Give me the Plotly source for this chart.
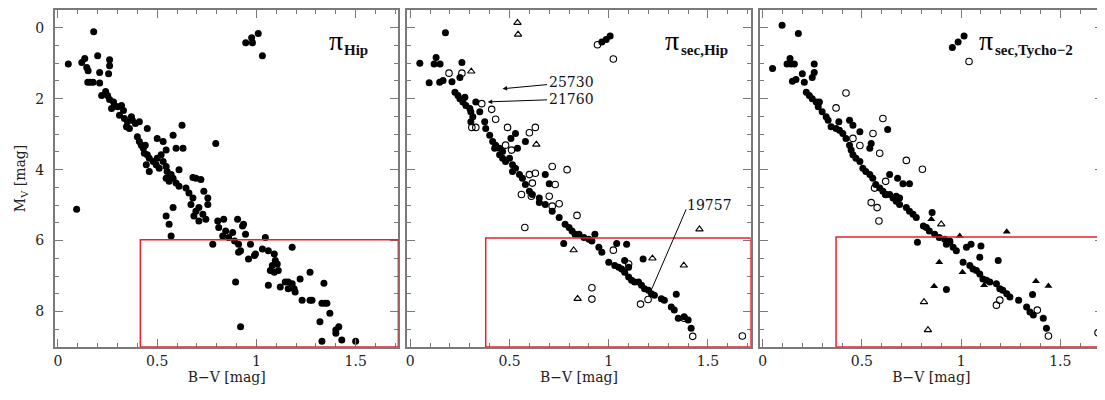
import plotly.graph_objects as go
from plotly.subplots import make_subplots

# (B-V, M_V)
hip_filled = [
    (0.052, 1.02), (0.18, 0.11), (0.12, 0.98), (0.135, 0.87), (0.145, 1.12), (0.152, 1.21),
    (0.15, 1.54), (0.164, 1.54), (0.177, 1.54), (0.20, 0.79), (0.21, 1.26), (0.21, 1.56),
    (0.26, 0.90), (0.26, 1.07), (0.255, 1.30), (0.22, 1.91),
    (0.24, 1.80), (0.25, 1.91), (0.26, 2.02), (0.28, 2.09), (0.285, 2.19), (0.27, 2.28),
    (0.30, 2.23), (0.32, 2.19), (0.33, 2.33), (0.31, 2.47), (0.335, 2.56), (0.35, 2.65),
    (0.37, 2.51), (0.375, 2.61), (0.39, 2.70), (0.36, 2.84), (0.345, 2.79), (0.41, 2.65),
    (0.40, 3.07), (0.41, 3.21), (0.42, 3.31), (0.43, 3.40), (0.44, 3.31), (0.435, 3.54),
    (0.45, 3.58), (0.46, 3.68), (0.48, 3.77), (0.495, 3.86), (0.51, 3.96), (0.50, 3.68),
    (0.52, 3.58), (0.53, 3.77), (0.545, 3.91), (0.55, 4.05), (0.57, 4.14), (0.58, 4.24),
    (0.595, 4.38), (0.61, 4.47), (0.545, 4.24), (0.56, 4.33), (0.50, 3.12), (0.53, 3.21),
    (0.545, 3.45), (0.45, 2.84), (0.625, 2.75), (0.58, 3.03), (0.595, 3.40), (0.63, 3.40),
    (0.61, 4.00), (0.795, 3.26), (0.445, 3.86), (0.46, 4.05), (0.68, 4.22), (0.695, 4.24),
    (0.72, 4.28), (0.735, 4.61), (0.755, 4.80), (0.645, 4.52), (0.66, 4.66), (0.68, 4.80),
    (0.67, 4.98), (0.695, 5.17), (0.71, 5.07), (0.73, 5.26), (0.745, 5.40), (0.755, 4.98),
    (0.685, 5.31), (0.71, 5.45), (0.094, 5.12), (0.545, 5.31), (0.56, 5.54), (0.57, 5.87),
    (0.58, 5.07), (0.78, 6.10), (0.805, 5.45), (0.81, 5.63), (0.835, 5.40), (0.845, 5.73),
    (0.86, 5.91), (0.88, 5.77), (0.89, 6.01), (0.83, 5.87), (0.905, 5.40), (0.93, 5.59),
    (0.935, 5.54), (0.945, 5.82), (0.91, 6.10), (0.91, 6.33), (0.92, 6.29), (0.96, 6.52),
    (0.97, 6.10), (0.99, 6.42), (0.995, 6.38), (1.045, 5.91), (1.03, 6.24), (1.06, 6.29),
    (1.09, 6.38), (1.095, 6.56), (1.08, 6.70), (1.07, 6.84), (1.09, 6.89), (1.105, 6.66),
    (1.11, 6.84), (0.895, 7.17), (0.92, 8.43), (1.06, 7.26), (1.18, 6.19), (1.12, 7.31),
    (1.145, 7.17), (1.16, 7.17), (1.18, 7.22), (1.19, 7.36), (1.195, 7.45), (1.16, 7.36),
    (1.22, 7.08), (1.27, 6.89), (1.23, 7.68), (1.27, 7.68), (1.28, 7.68), (1.34, 7.20),
    (1.33, 7.77), (1.345, 7.77), (1.355, 7.77), (1.32, 8.29), (1.37, 8.05), (1.40, 8.52),
    (1.415, 8.43), (1.40, 8.61), (1.43, 8.80), (1.33, 8.84), (1.50, 8.84),
    (0.946, 0.42), (0.976, 0.28), (0.98, 0.42), (1.009, 0.16), (1.03, 0.79),
]

sec_filled = [
    (0.048, 1.00), (0.177, 0.14), (0.095, 1.55), (0.13, 0.84), (0.12, 1.02), (0.15, 1.02),
    (0.148, 1.54), (0.165, 1.49), (0.21, 1.52), (0.26, 0.98), (0.25, 1.40),
    (0.225, 1.82), (0.24, 1.91), (0.25, 2.00), (0.265, 2.09), (0.275, 1.96), (0.28, 2.19),
    (0.30, 2.28), (0.305, 2.37), (0.315, 2.51), (0.305, 2.65), (0.375, 2.65), (0.38, 2.84),
    (0.40, 3.03), (0.415, 3.21), (0.425, 3.40), (0.43, 3.31), (0.45, 3.58), (0.465, 3.68),
    (0.48, 3.77), (0.515, 3.86), (0.53, 3.96), (0.55, 4.14), (0.565, 4.24), (0.58, 4.42),
    (0.60, 4.61), (0.615, 4.70), (0.65, 4.80), (0.507, 3.12), (0.53, 2.98), (0.54, 3.40),
    (0.58, 3.21), (0.68, 4.14), (0.70, 4.40), (0.33, 2.09), (0.35, 2.37), (0.45, 3.40),
    (0.465, 3.49), (0.50, 3.68), (0.515, 4.05),
    (0.965, 0.40), (0.987, 0.33), (1.007, 0.23),
    (0.65, 4.93), (0.68, 4.98), (0.715, 5.17), (0.75, 5.35), (0.78, 5.54), (0.80, 5.63),
    (0.815, 5.73), (0.83, 5.82), (0.85, 5.82), (0.875, 5.91), (0.90, 5.96), (0.915, 6.01),
    (0.93, 5.82), (0.95, 6.19), (0.965, 6.33), (1.00, 6.61), (1.03, 6.70), (1.05, 6.75),
    (1.065, 6.80), (1.08, 6.89), (1.10, 7.03), (1.115, 7.12), (1.13, 7.17), (1.15, 7.17),
    (1.165, 7.26), (1.18, 7.36), (1.20, 7.40), (1.215, 7.50), (1.23, 7.54), (1.265, 7.64),
    (1.28, 7.68), (1.315, 7.87), (1.33, 7.96), (1.35, 8.19), (1.38, 8.15), (1.40, 8.24),
    (1.415, 8.47), (0.773, 6.08), (1.04, 6.08), (1.09, 6.10), (1.173, 6.52), (1.34, 7.51),
    (1.08, 6.56), (1.10, 6.75),
]
sec_open = [
    (0.195, 1.28), (0.26, 1.28), (0.36, 2.14), (0.41, 2.30), (0.43, 2.58), (0.49, 2.81),
    (0.31, 2.81), (0.33, 2.81), (0.60, 2.96), (0.63, 2.81), (0.48, 3.31), (0.51, 3.45),
    (0.715, 3.91), (0.79, 4.00), (0.63, 4.10), (0.60, 4.14), (0.615, 4.38), (0.73, 4.42),
    (0.56, 4.70), (0.61, 4.75), (0.70, 4.75), (0.943, 0.48), (1.023, 0.88),
    (0.577, 5.63), (0.84, 5.29), (1.023, 6.27), (1.10, 6.66), (0.915, 7.33), (0.915, 7.65),
    (1.16, 7.79), (1.198, 7.66), (1.38, 8.19), (1.423, 8.70), (1.673, 8.69), (0.715, 5.03),
    (0.75, 4.96),
]
sec_open_tri = [
    (0.54, -0.14), (0.543, 0.19), (0.307, 1.23), (0.635, 3.29),
    (0.823, 6.27), (0.843, 7.64), (1.22, 6.50), (1.378, 6.70), (1.457, 5.68),
]

tyc_filled = [
    (0.098, -0.07), (0.18, 0.16), (0.05, 1.15), (0.138, 0.87), (0.123, 1.02), (0.143, 1.02),
    (0.16, 1.02), (0.15, 1.51), (0.168, 1.46), (0.20, 1.30), (0.21, 1.54), (0.26, 1.02),
    (0.26, 1.26), (0.25, 1.40),
    (0.22, 1.82), (0.235, 1.91), (0.25, 2.00), (0.27, 2.09), (0.286, 2.09), (0.28, 2.23),
    (0.30, 2.37), (0.32, 2.51), (0.33, 2.61), (0.345, 2.79), (0.37, 2.84), (0.387, 2.89),
    (0.404, 2.98), (0.42, 3.12), (0.438, 3.31), (0.446, 3.45), (0.455, 3.58), (0.47, 3.68),
    (0.49, 3.77), (0.505, 3.96), (0.52, 4.05), (0.54, 4.14), (0.555, 4.24), (0.57, 4.42),
    (0.59, 4.52), (0.606, 4.61), (0.62, 4.70), (0.64, 4.70), (0.657, 4.80), (0.673, 4.75),
    (0.69, 4.80), (0.384, 2.65), (0.438, 2.61), (0.455, 2.75), (0.49, 2.93), (0.547, 3.26),
    (0.54, 3.40), (0.63, 2.87), (0.64, 4.14), (0.68, 4.24), (0.707, 4.40), (0.74, 4.40),
    (0.956, 0.56), (0.985, 0.40), (1.015, 0.23),
    (0.673, 4.89), (0.69, 4.98), (0.724, 5.07), (0.74, 5.17), (0.758, 5.26), (0.774, 5.35),
    (0.81, 5.59), (0.825, 5.63), (0.84, 5.73), (0.867, 5.82), (0.89, 5.91), (0.917, 5.96),
    (0.943, 6.01), (0.96, 6.19), (0.976, 6.29), (1.01, 6.61), (1.044, 6.70), (1.06, 6.80),
    (1.077, 6.84), (1.094, 6.94), (1.11, 7.08), (1.128, 7.12), (1.145, 7.17), (1.178, 7.22),
    (1.195, 7.36), (1.21, 7.40), (1.23, 7.50), (1.246, 7.59), (1.29, 7.68), (1.33, 7.87),
    (1.347, 8.01), (1.364, 8.10), (1.414, 8.19), (1.43, 8.47), (0.854, 5.21), (0.78, 6.05),
    (0.926, 6.10), (0.943, 6.05), (1.027, 6.19), (1.05, 6.10), (1.10, 6.15), (1.094, 6.47),
    (1.187, 6.56), (1.36, 7.52), (0.926, 7.38),
]
tyc_open = [
    (1.04, 0.95), (0.42, 1.84), (0.37, 2.26), (0.606, 2.56), (0.556, 2.98), (0.455, 3.12),
    (0.49, 3.32), (0.59, 3.54), (0.724, 3.74), (0.805, 3.99), (0.62, 4.33), (0.564, 4.52),
    (0.62, 4.70), (0.547, 4.93), (0.577, 5.07), (0.586, 5.45), (1.178, 7.82), (1.195, 7.68),
    (1.384, 7.96), (1.44, 8.69), (1.69, 8.60),
]
tyc_filled_tri = [
    (0.89, 6.61), (1.007, 6.89), (0.864, 7.29), (1.23, 5.75), (1.377, 7.15), (1.44, 7.28),
    (0.85, 5.40), (1.116, 7.26), (0.993, 5.87),
]
tyc_open_tri = [(0.813, 7.73), (0.833, 8.52), (0.90, 5.54)]

# lower-left corner of the red selection box in each panel
box_corners = [(0.415, 5.98), (0.38, 5.93), (0.37, 5.90)]

# labelled stars in the middle panel: (HIP, star B-V, star M_V, label B-V, label M_V)
hip_labels = [
    ("25730", 0.465, 1.72, 0.81, 1.54),
    ("21760", 0.39, 2.09, 0.81, 2.01),
]

SERIF = "DejaVu Serif"
LABEL = "Liberation Serif"
FRAME = "#7a7a7a"
XR = [-0.015, 1.715]
YR = [9.0, -0.5]

fig = make_subplots(rows=1, cols=3, horizontal_spacing=9 / 1050)


def add_points(points, col, symbol, size=7, lw=1.1):
    fig.add_trace(go.Scatter(
        x=[p[0] for p in points], y=[p[1] for p in points], mode="markers",
        marker=dict(symbol=symbol, size=size, color="black", line=dict(color="black", width=lw)),
        showlegend=False, hoverinfo="skip"), row=1, col=col)


add_points(hip_filled, 1, "circle", 7, 0)
add_points(sec_filled, 2, "circle", 7, 0)
add_points(sec_open, 2, "circle-open", 6.5)
add_points(sec_open_tri, 2, "triangle-up-open", 6.5)
add_points(tyc_filled, 3, "circle", 7, 0)
add_points(tyc_open, 3, "circle-open", 6.5)
add_points(tyc_filled_tri, 3, "triangle-up", 7, 0)
add_points(tyc_open_tri, 3, "triangle-up-open", 6.5)

for i in range(1, 4):
    fig.update_xaxes(
        range=XR, dtick=0.5, ticks="inside", ticklen=8, tickwidth=1.3, tickcolor=FRAME,
        minor=dict(dtick=0.1, ticks="inside", ticklen=4, tickcolor=FRAME, tickwidth=1.1),
        showline=True, linecolor=FRAME, linewidth=2, mirror="ticks", showgrid=False, zeroline=False,
        tickfont=dict(family=SERIF, size=14, color="#222"),
        title=dict(text="B\u2212V [mag]", font=dict(family=SERIF, size=14, color="#222"), standoff=4),
        row=1, col=i)
    fig.update_yaxes(
        range=YR, dtick=2, ticks="inside", ticklen=8, tickwidth=1.3, tickcolor=FRAME,
        minor=dict(dtick=0.5, ticks="inside", ticklen=4, tickcolor=FRAME, tickwidth=1.1),
        showline=True, linecolor=FRAME, linewidth=2, mirror="ticks", showgrid=False, zeroline=False,
        showticklabels=(i == 1), tickfont=dict(family=SERIF, size=14, color="#222"),
        row=1, col=i)

fig.update_yaxes(title=dict(text="M<sub>V</sub> [mag]", font=dict(family=SERIF, size=14, color="#222"),
                            standoff=6), ticklabelstandoff=6, row=1, col=1)

# red boxes
for i, (bx, by) in enumerate(box_corners):
    ax = "x" if i == 0 else "x%d" % (i + 1)
    ay = "y" if i == 0 else "y%d" % (i + 1)
    fig.add_shape(type="rect", xref=ax, yref=ay, x0=bx, x1=XR[1], y0=by, y1=YR[0],
                  line=dict(color="#e8202a", width=1.5), layer="above")

# panel labels
panel_labels = [("Hip", 1.353, 1.43), ("sec,Hip", 1.275, 1.355), ("sec,Tycho\u22122", 1.08, 1.16)]
for i, (sub, px, sx) in enumerate(panel_labels):
    ax = "x" if i == 0 else "x%d" % (i + 1)
    ay = "y" if i == 0 else "y%d" % (i + 1)
    fig.add_annotation(x=px, y=0.36, xref=ax, yref=ay, text="\u03c0", showarrow=False,
                       xanchor="left", yanchor="middle", font=dict(family=LABEL, size=28, color="black"))
    fig.add_annotation(x=sx, y=0.64, xref=ax, yref=ay, text="<b>%s</b>" % sub, showarrow=False,
                       xanchor="left", yanchor="middle", font=dict(family=LABEL, size=15, color="#111"))

# star labels in middle panel
for name, sx, sy, tx, ty in hip_labels:
    fig.add_annotation(x=sx, y=sy, xref="x2", yref="y2", ax=tx, ay=ty, axref="x2", ayref="y2",
                       text=name, showarrow=True, arrowhead=2, arrowsize=0.9, arrowwidth=1,
                       arrowcolor="black", font=dict(family=SERIF, size=14, color="#111"))
fig.add_shape(type="line", xref="x2", yref="y2", x0=1.39, y0=5.12, x1=1.21, y1=7.45,
              line=dict(color="black", width=1))
fig.add_annotation(x=1.385, y=5.0, xref="x2", yref="y2", text="19757", showarrow=False,
                   xanchor="left", yanchor="middle", font=dict(family=SERIF, size=14, color="#111"))

# the page adds an 8 px body margin, so the figure is 8 px smaller than the window
fig.update_layout(width=1097, height=392, margin=dict(l=47, r=0, t=0, b=53),
                  plot_bgcolor="white", paper_bgcolor="white")
fig.write_html("out.html")
